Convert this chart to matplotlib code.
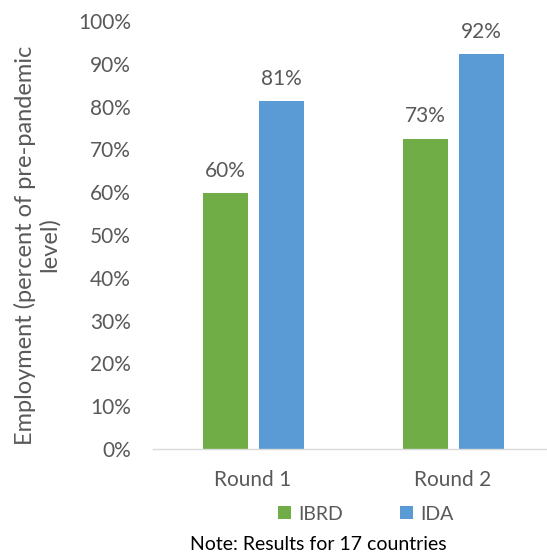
import matplotlib
matplotlib.use('Agg')
import matplotlib.pyplot as plt
import numpy as np

rounds = ['Round 1', 'Round 2']
ibrd = [59.7, 72.5]
ida = [81.2, 92.2]
ibrd_lbl = ['60%', '73%']
ida_lbl = ['81%', '92%']
yticks = [0, 10, 20, 30, 40, 50, 60, 70, 80, 90, 100]

GREEN = '#70AD47'
BLUE = '#5B9BD5'
TXT = '#595959'

plt.rcParams['font.family'] = ['Lato', 'DejaVu Sans']

fig = plt.figure(figsize=(5.47, 5.54), dpi=100)
ax = fig.add_axes([153/547, 105/554, 394/547, 428/554])

x = np.arange(len(rounds))
w = 0.225
off = 0.14
b1 = ax.bar(x - off, ibrd, w, color=GREEN, label='IBRD')
b2 = ax.bar(x + off, ida, w, color=BLUE, label='IDA')

# value labels above bars
for bars, lbls in [(b1, ibrd_lbl), (b2, ida_lbl)]:
    for b, l in zip(bars, lbls):
        ax.annotate(l, (b.get_x() + b.get_width()/2, b.get_height()),
                    xytext=(0, 9), textcoords='offset points',
                    ha='center', va='bottom', fontsize=15, color=TXT)

ax.set_xlim(-0.5, 1.47)
ax.set_ylim(0, 100)
ax.set_yticks(yticks)
ax.set_yticklabels(['{}%'.format(t) for t in yticks])
ax.set_xticks(x)
ax.set_xticklabels(rounds)
ax.tick_params(axis='both', length=0, labelsize=15, colors=TXT)
ax.tick_params(axis='x', pad=15)
ax.tick_params(axis='y', pad=16)

for s in ['top', 'right', 'left']:
    ax.spines[s].set_visible(False)
ax.spines['bottom'].set_color('#D9D9D9')
ax.spines['bottom'].set_linewidth(1)

fig.text(37/547, 1 - 245/554, 'Employment (percent of pre-pandemic\nlevel)',
         rotation=90, ha='center', va='center', fontsize=17, color=TXT,
         linespacing=1.1)

leg = fig.legend(handles=[b1, b2], labels=['IBRD', 'IDA'],
                 loc='center', bbox_to_anchor=(366/547, 1 - 514/554),
                 ncol=2, frameon=False, fontsize=14, handlelength=0.65,
                 handleheight=0.65, columnspacing=2.9, handletextpad=0.4)
for t in leg.get_texts():
    t.set_color(TXT)

fig.text(318/547, 1 - 544/554, 'Note: Results for 17 countries',
         ha='center', va='center', fontsize=14, color='black')

fig.savefig('out.png', dpi=100)
